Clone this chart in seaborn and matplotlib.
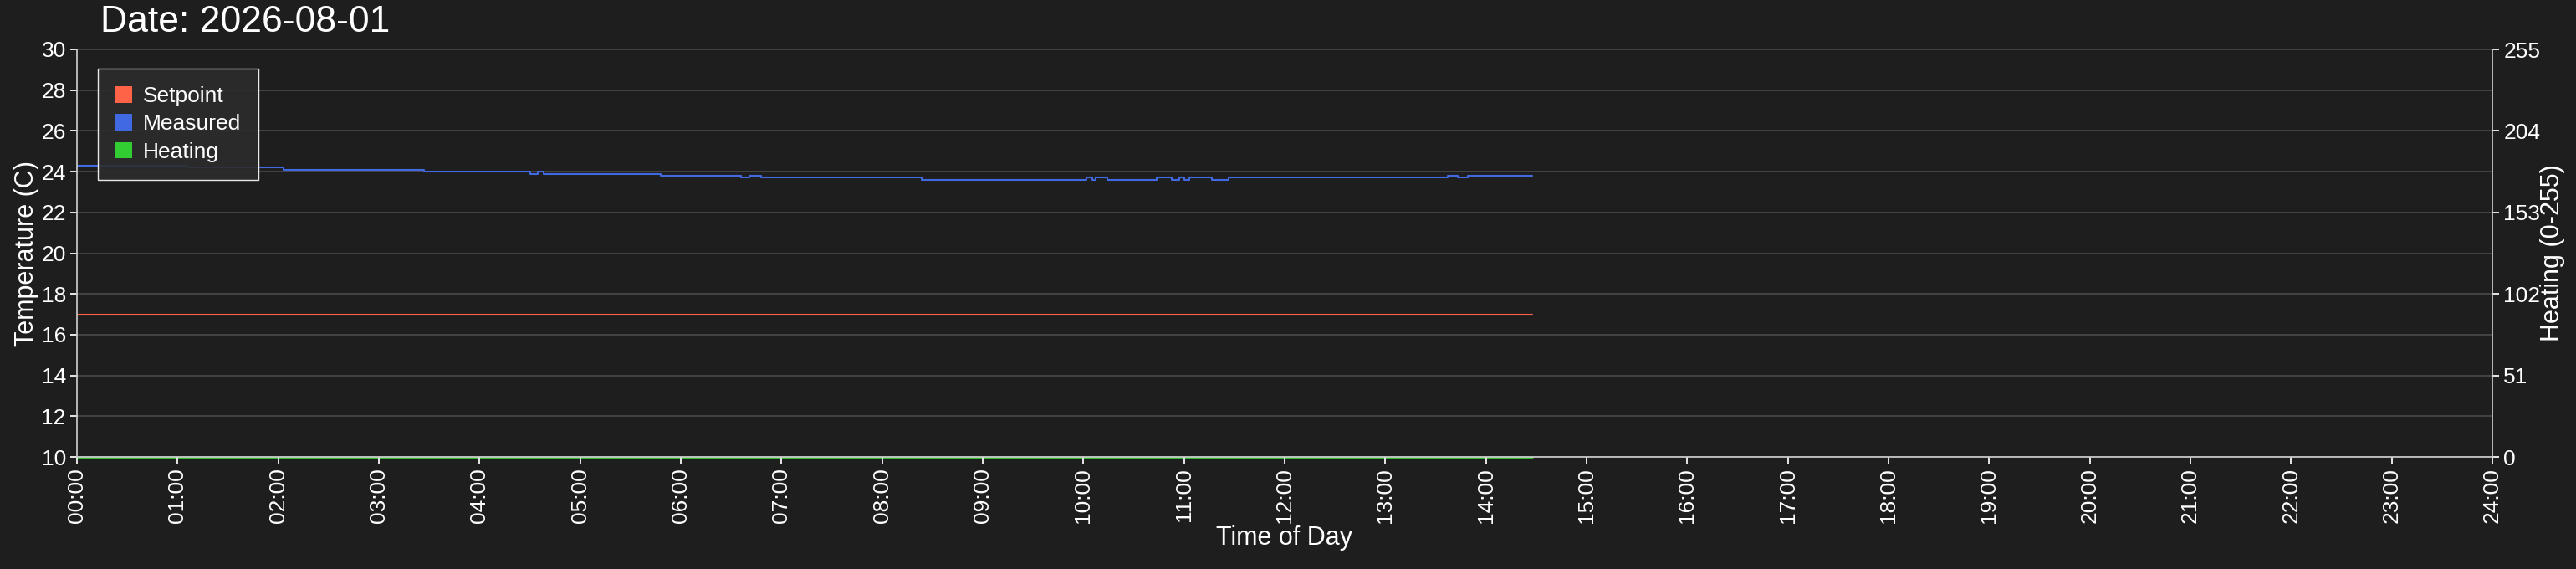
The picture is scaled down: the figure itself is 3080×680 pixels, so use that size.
import matplotlib
matplotlib.use("Agg")
import matplotlib.pyplot as plt
import seaborn as sns
import pandas as pd
from matplotlib.patches import Patch

sns.set_theme(style="dark")
plt.rcParams['font.family'] = ['Liberation Sans', 'DejaVu Sans']

# hours of day (step changes) and measured temperature
meas_hours = [0, 1.1, 2.05, 3.45, 4.5, 4.58, 4.64, 5.8, 6.6, 6.68, 6.8, 8.39, 10.03, 10.09, 10.12, 10.24,
              10.73, 10.88, 10.95, 11.0, 11.05, 11.28, 11.44, 13.62, 13.72, 13.82, 14.46]
meas_temp = [24.3, 24.2, 24.1, 24.0, 23.9, 24.0, 23.9, 23.8, 23.7, 23.8, 23.7, 23.6, 23.7, 23.6, 23.7, 23.6,
             23.7, 23.6, 23.7, 23.6, 23.7, 23.6, 23.7, 23.8, 23.7, 23.8, 23.8]
set_hours = [0, 14.46]
set_temp = [17, 17]
heat_hours = [0, 14.46]
heat_vals = [0, 0]
legend_labels = ["Setpoint", "Measured", "Heating"]
colors = ["#ff6347", "#4169e1", "#32cd32"]
title = "Date: 2026-08-01"

bg = "#1e1e1e"
fig = plt.figure(figsize=(30.8, 6.8), dpi=100, facecolor=bg)
ax = fig.add_axes([92/3080, 1-546/680, (2980-92)/3080, (546-59)/680])
ax.set_facecolor(bg)
ax2 = ax.twinx()

sns.lineplot(x=set_hours, y=set_temp, ax=ax, color=colors[0], lw=1.5, drawstyle='steps-post')
sns.lineplot(x=meas_hours, y=meas_temp, ax=ax, color=colors[1], lw=1.5, drawstyle='steps-post')
sns.lineplot(x=heat_hours, y=heat_vals, ax=ax2, color=colors[2], lw=2, drawstyle='steps-post',
             clip_on=False, zorder=5)

ax.set_xlim(0, 24)
ax.set_ylim(10, 30)
ax2.set_ylim(0, 255)
ax.set_yticks(range(10, 31, 2))
ax2.set_yticks([0, 51, 102, 153, 204, 255])
ax.set_xticks(range(25))
ax.set_xticklabels([f"{h:02d}:00" for h in range(25)], rotation=90)
ax.grid(True, axis='y', color='#4a4a4a', lw=1.2)
ax.grid(False, axis='x')
ax2.grid(False)
for a in (ax, ax2):
    a.tick_params(colors='white', labelsize=19, length=6, left=True, bottom=True)
    for s in a.spines.values():
        s.set_visible(False)
ax2.tick_params(right=True, left=False)
ax.spines['left'].set_visible(True); ax.spines['left'].set_color('#cccccc')
ax.spines['bottom'].set_visible(True); ax.spines['bottom'].set_color('#cccccc')
ax2.spines['right'].set_visible(True); ax2.spines['right'].set_color('#cccccc')

ax.set_xlabel("Time of Day", color='white', fontsize=22, labelpad=2)
ax.set_ylabel("Temperature (C)", color='white', fontsize=22, labelpad=2)
ax2.set_ylabel("Heating (0-255)", color='white', fontsize=22, labelpad=0)
fig.text(120/3080, 1-6/680, title, color='white', fontsize=32, va='top', ha='left')

handles = [Patch(facecolor=c, edgecolor='none') for c in colors]
leg = ax.legend(handles, legend_labels, loc='upper left', bbox_to_anchor=(0.004, 0.98),
                fontsize=19, frameon=True, facecolor='#2c2c2c', edgecolor='white',
                labelcolor='white', handlelength=0.75, handleheight=0.75, borderpad=0.8,
                labelspacing=0.35, handletextpad=0.5, fancybox=False)
leg.get_frame().set_alpha(0.9)
ax.set_zorder(ax2.get_zorder() + 1)
ax.patch.set_visible(False)
ax2.set_facecolor(bg)

fig.savefig("out.png", facecolor=bg)
